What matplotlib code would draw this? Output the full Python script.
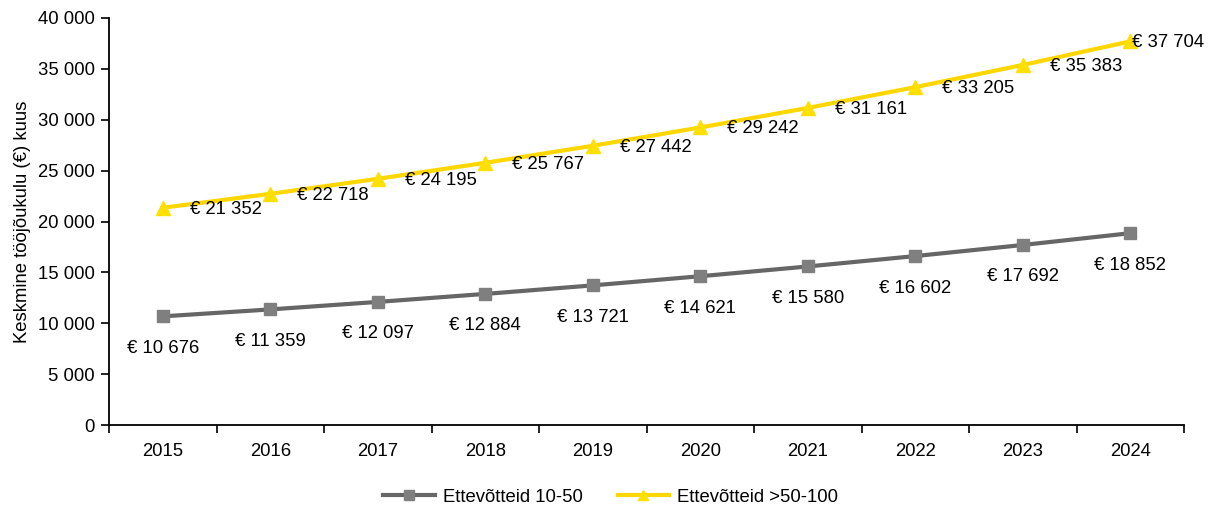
import numpy as np
import matplotlib.pyplot as plt
from matplotlib.ticker import FuncFormatter

plt.rcParams['font.family'] = ['Liberation Sans', 'DejaVu Sans']

# --- andmed ---
aastad = ['2015', '2016', '2017', '2018', '2019', '2020', '2021', '2022', '2023', '2024']
ettevotted_10_50 = [10676, 11359, 12097, 12884, 13721, 14621, 15580, 16602, 17692, 18852]
ettevotted_50_100 = [21352, 22718, 24195, 25767, 27442, 29242, 31161, 33205, 35383, 37704]

hall = '#666666'
hall_marker = '#7f7f7f'
kollane = '#FFD700'
kollane_marker = '#FFE000'
fs = 13.3


def eur(v):
    return '€ ' + f'{v:,}'.replace(',', ' ')


fig = plt.figure(figsize=(12.09, 5.12), dpi=100)
ax = fig.add_axes([109 / 1209, 1 - 425 / 512, 1075 / 1209, 407 / 512])

x = np.arange(len(aastad))
ax.plot(x, ettevotted_10_50, color=hall, lw=3, marker='s', ms=9,
        mfc=hall_marker, mec=hall_marker, label='Ettevõtteid 10-50', zorder=3)
ax.plot(x, ettevotted_50_100, color=kollane, lw=3, marker='^', ms=10,
        mfc=kollane_marker, mec=kollane_marker, label='Ettevõtteid >50-100', zorder=3)

# andmesildid
for i, v in enumerate(ettevotted_10_50):
    ax.annotate(eur(v), (i, v), xytext=(0, -32 * 0.72), textcoords='offset points',
                ha='center', va='center', fontsize=fs)
for i, v in enumerate(ettevotted_50_100):
    dx = 27 if i < len(ettevotted_50_100) - 1 else 2
    ax.annotate(eur(v), (i, v), xytext=(dx * 0.72, -1), textcoords='offset points',
                ha='left', va='center', fontsize=fs, annotation_clip=False)

ax.set_xlim(-0.5, len(aastad) - 0.5)
ax.set_ylim(0, 40000)
ax.set_yticks(np.arange(0, 40001, 5000))
ax.yaxis.set_major_formatter(FuncFormatter(lambda v, p: f'{int(v):,}'.replace(',', ' ')))
ax.set_xticks(x)
ax.set_xticklabels(aastad)
ax.set_xticks(np.arange(-0.5, len(aastad), 1), minor=True)
ax.tick_params(axis='x', which='major', length=0, pad=13, labelsize=fs)
ax.tick_params(axis='x', which='minor', length=6, width=1.2, direction='out')
ax.tick_params(axis='y', length=6, width=1.2, direction='out', labelsize=fs, pad=4)

for s in ['top', 'right']:
    ax.spines[s].set_visible(False)
ax.spines['left'].set_linewidth(1.3)
ax.spines['bottom'].set_linewidth(1.3)

ax.set_ylabel('Keskmine tööjõukulu (€) kuus', fontsize=fs, labelpad=5)

leg = fig.legend(loc='center', bbox_to_anchor=(0.505, 1 - 497 / 512), ncol=2, frameon=False,
                 fontsize=fs, handlelength=2.8, columnspacing=1.9, handletextpad=0.4,
                 markerscale=0.75)

plt.savefig('out.png', dpi=100)
